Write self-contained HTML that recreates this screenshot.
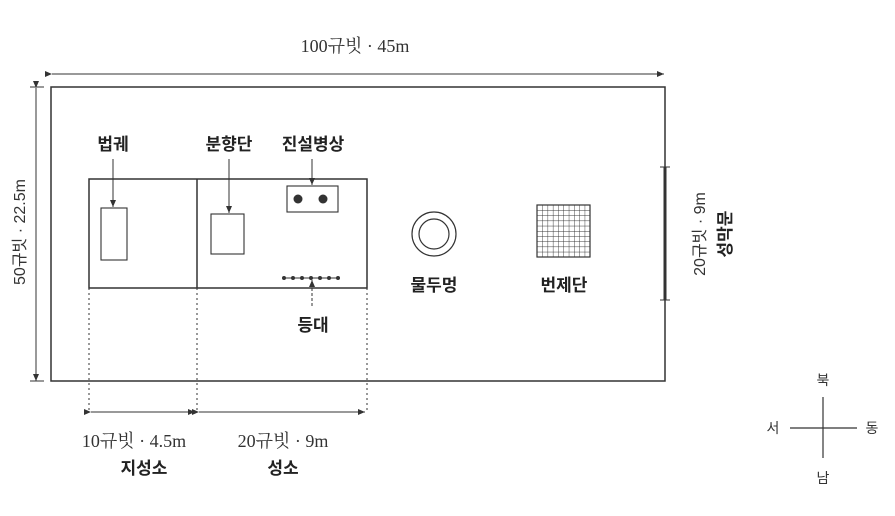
<!DOCTYPE html>
<html><head><meta charset="utf-8"><style>
html,body{margin:0;padding:0;background:#fff;}
svg{display:block;}
text{font-family:"Liberation Serif","Noto Serif CJK SC","Noto Sans CJK KR",serif;fill:#333;}
.b{font-family:"Liberation Sans","Noto Sans CJK KR",sans-serif;font-weight:bold;font-size:17px;fill:#222;}
.s{font-family:"Liberation Sans","Noto Sans CJK KR",sans-serif;font-size:14px;fill:#333;}
.r{font-family:"Liberation Sans","Noto Sans CJK KR",sans-serif;font-size:16px;fill:#333;}
</style></head><body>
<svg width="895" height="516" viewBox="0 0 895 516" xmlns="http://www.w3.org/2000/svg">
<defs>
<marker id="a" markerWidth="8" markerHeight="8" refX="7" refY="4" orient="auto" markerUnits="userSpaceOnUse"><path d="M0,1 L7,4 L0,7 Z" fill="#333"/></marker>
<pattern id="g" width="5.3" height="5.2" patternUnits="userSpaceOnUse" x="537" y="205"><path d="M0,0 H5.3 M0,0 V5.2" stroke="#333" stroke-width="0.9" fill="none"/></pattern>
</defs>
<g stroke="#333" fill="none" stroke-width="1.3">
<line x1="52" y1="74" x2="664" y2="74" stroke-width="1" marker-start="url(#a)" marker-end="url(#a)"/>
<line x1="36" y1="88" x2="36" y2="381" stroke-width="1" marker-start="url(#a)" marker-end="url(#a)"/>
<line x1="30" y1="87" x2="44" y2="87" stroke-width="1"/>
<line x1="30" y1="381" x2="44" y2="381" stroke-width="1"/>
<rect x="51" y="87" width="614" height="294" stroke-width="1.5"/>
<line x1="665" y1="167" x2="665" y2="300" stroke-width="3"/>
<line x1="660" y1="167" x2="670" y2="167" stroke-width="1"/>
<line x1="660" y1="300" x2="670" y2="300" stroke-width="1"/>
<rect x="89" y="179" width="278" height="109" stroke-width="1.5"/>
<line x1="197" y1="179" x2="197" y2="288" stroke-width="1.5"/>
<g stroke-dasharray="2,3" stroke-width="1">
<line x1="89" y1="288" x2="89" y2="412"/>
<line x1="197" y1="288" x2="197" y2="412"/>
<line x1="367" y1="288" x2="367" y2="412"/>
</g>
<line x1="91" y1="412" x2="195" y2="412" stroke-width="1" marker-start="url(#a)" marker-end="url(#a)"/>
<line x1="199" y1="412" x2="365" y2="412" stroke-width="1" marker-start="url(#a)" marker-end="url(#a)"/>
<rect x="101" y="208" width="26" height="52" stroke-width="1.1"/>
<line x1="113" y1="159" x2="113" y2="207" stroke-width="1" marker-end="url(#a)"/>
<rect x="211" y="214" width="33" height="40" stroke-width="1.1"/>
<line x1="229" y1="159" x2="229" y2="213" stroke-width="1" marker-end="url(#a)"/>
<rect x="287" y="186" width="51" height="26" stroke-width="1.1"/>
<line x1="312" y1="159" x2="312" y2="185" stroke-width="1" marker-end="url(#a)"/>
<line x1="283" y1="278" x2="340" y2="278" stroke-width="1"/>
<line x1="312" y1="306" x2="312" y2="280" stroke-width="1" stroke-dasharray="3,2" marker-end="url(#a)"/>
<circle cx="434" cy="234" r="22" stroke-width="1.2"/>
<circle cx="434" cy="234" r="15" stroke-width="1.2"/>
<rect x="537" y="205" width="53" height="52" fill="url(#g)" stroke-width="1.2"/>
<line x1="790" y1="428" x2="857" y2="428" stroke-width="1.2"/>
<line x1="823" y1="397" x2="823" y2="458" stroke-width="1.2"/>
</g>
<g fill="#333">
<circle cx="298" cy="199" r="4.5"/><circle cx="323" cy="199" r="4.5"/>
<circle cx="284" cy="278" r="2"/><circle cx="293" cy="278" r="2"/><circle cx="302" cy="278" r="2"/><circle cx="311" cy="278" r="2"/><circle cx="320" cy="278" r="2"/><circle cx="329" cy="278" r="2"/><circle cx="338" cy="278" r="2"/>
</g>
<text x="355" y="52" font-size="18" text-anchor="middle">100규빗 · 45m</text>
<text class="r" transform="translate(25,232) rotate(-90)" text-anchor="middle">50규빗 · 22.5m</text>
<text class="r" transform="translate(705,234) rotate(-90)" text-anchor="middle">20규빗 · 9m</text>
<text class="b" transform="translate(731,234) rotate(-90)" text-anchor="middle">성막문</text>
<text class="b" x="113" y="150" text-anchor="middle">법궤</text>
<text class="b" x="229" y="150" text-anchor="middle">분향단</text>
<text class="b" x="313" y="150" text-anchor="middle">진설병상</text>
<text class="b" x="434" y="291" text-anchor="middle">물두멍</text>
<text class="b" x="564" y="291" text-anchor="middle">번제단</text>
<text class="b" x="313" y="331" text-anchor="middle">등대</text>
<text x="134" y="447" font-size="18" text-anchor="middle">10규빗 · 4.5m</text>
<text class="b" x="144" y="474" text-anchor="middle">지성소</text>
<text x="283" y="447" font-size="18" text-anchor="middle">20규빗 · 9m</text>
<text class="b" x="283" y="474" text-anchor="middle">성소</text>
<text class="s" x="823" y="385" text-anchor="middle">북</text>
<text class="s" x="823" y="483" text-anchor="middle">남</text>
<text class="s" x="773" y="433" text-anchor="middle">서</text>
<text class="s" x="872" y="433" text-anchor="middle">동</text>
</svg>
</body></html>
